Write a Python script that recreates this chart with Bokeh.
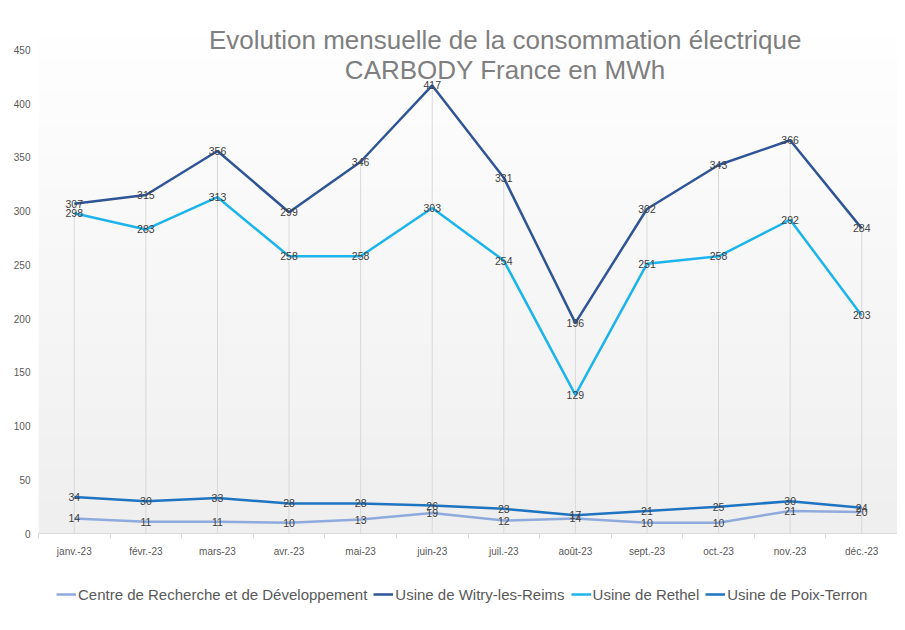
import numpy as np
from bokeh.plotting import figure
from bokeh.layouts import column
from bokeh.models import (ColumnDataSource, FixedTicker, Label, Legend, LegendItem, Range1d)
from bokeh.core.properties import value
from bokeh.embed import file_html
from bokeh.resources import INLINE

months = ["janv.-23", "févr.-23", "mars-23", "avr.-23", "mai-23", "juin-23",
          "juil.-23", "août-23", "sept.-23", "oct.-23", "nov.-23", "déc.-23"]
centre = [14, 11, 11, 10, 13, 19, 12, 14, 10, 10, 21, 20]
witry = [307, 315, 356, 299, 346, 417, 331, 196, 302, 343, 366, 284]
rethel = [298, 283, 313, 258, 258, 303, 254, 129, 251, 258, 292, 203]
poix = [34, 30, 33, 28, 28, 26, 23, 17, 21, 25, 30, 24]

series_names = ["Centre de Recherche et de Développement", "Usine de Witry-les-Reims",
                "Usine de Rethel", "Usine de Poix-Terron"]
series_vals = [centre, witry, rethel, poix]
series_colors = ["#8faadc", "#2f5597", "#1cb4ec", "#1f74c2"]
y_ticks = [0, 50, 100, 150, 200, 250, 300, 350, 400, 450]

FONT = "Liberation Sans"
xs = list(range(len(months)))

p = figure(width=897, height=575, output_backend="svg", toolbar_location=None,
           x_range=Range1d(-0.5, len(months) - 0.5), y_range=Range1d(0, 470),
           min_border_left=38, min_border_right=0, min_border_top=28, min_border_bottom=42)
p.outline_line_color = None
p.grid.visible = False
p.background_fill_color = "#ffffff"

# gradient background (white top -> light grey bottom)
n = 64
t = np.linspace(0, 1, n)
grey = (255 - (255 - 239) * (1 - t)).astype(np.uint32)  # row 0 = bottom
img = np.zeros((n, 1), dtype=np.uint32)
img[:, 0] = (255 << 24) | (grey << 16) | (grey << 8) | grey
p.image_rgba(image=[img], x=-0.5, y=0, dw=len(months), dh=470)

# drop lines
tops = [max(v) for v in zip(*series_vals)]
p.segment(x0=xs, y0=[0] * len(xs), x1=xs, y1=tops, line_color="#d9d9d9", line_width=1)

for vals, col in zip(series_vals, series_colors):
    p.line(xs, vals, line_color=col, line_width=2.5)

for vals in series_vals:
    src = ColumnDataSource(dict(x=xs, y=vals, t=[str(v) for v in vals]))
    p.text(x="x", y="y", text="t", source=src, text_align="center", text_baseline="middle",
           text_font=value(FONT), text_font_size="10.5px", text_color="#404040")

# axes
p.xaxis.ticker = FixedTicker(ticks=xs, minor_ticks=[i - 0.5 for i in range(len(months) + 1)])
p.xaxis.major_label_overrides = {i: m for i, m in enumerate(months)}
p.xaxis.axis_line_color = "#d9d9d9"
p.xaxis.major_tick_line_color = None
p.xaxis.major_tick_out = 0
p.xaxis.minor_tick_line_color = "#d9d9d9"
p.xaxis.minor_tick_out = 5
p.xaxis.minor_tick_in = 0
p.xaxis.major_label_standoff = 7
p.xaxis.major_label_text_font = FONT
p.xaxis.major_label_text_font_size = "10px"
p.xaxis.major_label_text_color = "#595959"

p.yaxis.ticker = FixedTicker(ticks=y_ticks)
p.yaxis.axis_line_color = None
p.yaxis.major_tick_line_color = None
p.yaxis.minor_tick_line_color = None
p.yaxis.major_label_standoff = 2
p.yaxis.major_label_text_font = FONT
p.yaxis.major_label_text_font_size = "10px"
p.yaxis.major_label_text_color = "#595959"

# title inside chart
for txt, yy in [("Evolution mensuelle de la consommation électrique", 459),
                ("CARBODY France en MWh", 431)]:
    p.add_layout(Label(x=6.02, y=yy, text=txt, text_align="center", text_baseline="middle",
                       text_font=FONT, text_font_size="26px", text_color="#7f7f7f"))

# legend strip below the chart (dummy renderers carry only the legend styling)
lf = figure(width=897, height=47, output_backend="svg", toolbar_location=None,
            x_range=Range1d(0, 1), y_range=Range1d(0, 1),
            min_border_left=0, min_border_right=0, min_border_top=0, min_border_bottom=0)
lf.axis.visible = False
lf.grid.visible = False
lf.outline_line_color = None
items = []
for name, col in zip(series_names, series_colors):
    r = lf.line(x=[float("nan")], y=[float("nan")], line_color=col, line_width=2.5)
    items.append(LegendItem(label=name, renderers=[r]))

legend = Legend(items=items, orientation="horizontal", location=(18, 18))
legend.label_text_font = FONT
legend.label_text_font_size = "15px"
legend.label_text_color = "#595959"
legend.glyph_width = 20
legend.label_standoff = 2
legend.spacing = 6
legend.margin = 0
legend.padding = 0
legend.border_line_color = None
legend.background_fill_alpha = 0
lf.add_layout(legend, "center")

layout = column(p, lf, spacing=0)
open("out.html", "w").write(file_html(layout, INLINE))
